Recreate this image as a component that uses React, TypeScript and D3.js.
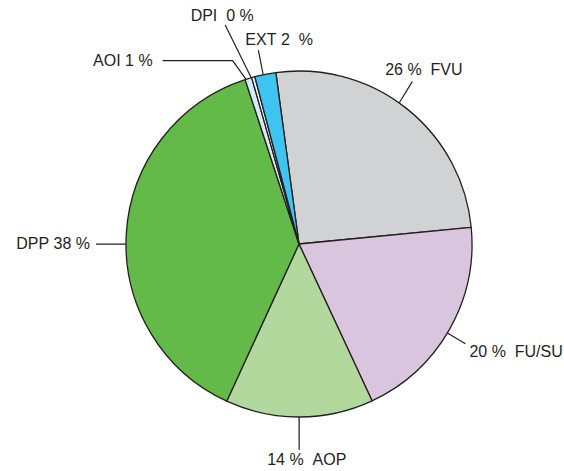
import React from 'react'
import * as d3 from 'd3'

// slice order follows the pie clockwise, starting with FVU
const CATEGORIES = ['FVU', 'FU/SU', 'AOP', 'DPP', 'AOI', 'DPI', 'EXT']
const SHARES = [25.6, 19.6, 13.8, 38.1, 0.63, 0.3, 1.97]
const COLORS = ['#d1d2d4', '#dac5df', '#b2d89d', '#63ba48', '#d4ecf9', '#ffffff', '#3fc4f1']

const W = 564
const H = 471
const CX = 299
const CY = 244
const R = 173
const START_DEG = -7.7
const INK = '#231f20'

// label placement: nudge = degrees off the slice mid angle, r2 = leader end radius
const LABEL_LAYOUT: Record<string, any> = {
  FVU:     { nudge: -3, endNudge: -3.5, r2: 198, tail: 0, anchor: 'start', dx: -27, dy: -7, text: (p: string) => `${p} %\u00a0\u00a0FVU` },
  'FU/SU': { nudge: 1.2, endNudge: 1.2, r2: 194, tail: 0, anchor: 'start', dx: 4, dy: 13, text: (p: string) => `${p} %\u00a0\u00a0FU/SU` },
  AOP:     { nudge: 0.1, endNudge: 0.1, r2: 206, tail: 0, anchor: 'start', dx: -32, dy: 15, text: (p: string) => `${p} %\u00a0\u00a0AOP` },
  DPP:     { nudge: -3.3, endNudge: -3.3, r2: 203, tail: 0, anchor: 'end', dx: -6, dy: 5, text: (p: string) => `DPP\u00a0${p} %` },
  AOI:     { nudge: -0.8, endNudge: -2.9, r2: 195, tail: -70, anchor: 'end', dx: -10, dy: 5, text: (p: string) => `AOI\u00a0${p} %` },
  DPI:     { nudge: -0.7, endNudge: -3.3, r2: 231, tail: 0, anchor: 'middle', dx: -3, dy: -4, text: (p: string) => `DPI\u00a0\u00a0${p} %` },
  EXT:     { nudge: -0.7, endNudge: -0.6, r2: 198, tail: 0, anchor: 'start', dx: -13, dy: -5, text: (p: string) => `EXT\u00a0${p}\u00a0\u00a0%` },
}

const rad = (deg: number) => (deg * Math.PI) / 180
const polar = (a: number, r: number): [number, number] => [Math.sin(a) * r, -Math.cos(a) * r]

export default function App() {
  const data = CATEGORIES.map((c, i) => ({ name: c, value: SHARES[i], color: COLORS[i] }))

  const pie = d3.pie<any>()
    .sort(null)
    .value((d) => d.value)
    .startAngle(rad(START_DEG))
    .endAngle(rad(START_DEG + 360))

  const arc = d3.arc<any>().innerRadius(0).outerRadius(R)
  const arcs = pie(data)

  return (
    <svg
      width={W}
      height={H}
      style={{ position: 'absolute', left: 0, top: 0, background: '#fff' }}
      fontFamily="'Liberation Sans', Arial, sans-serif"
    >
      <g transform={`translate(${CX},${CY})`}>
        {arcs.map((a) => (
          <path
            key={a.data.name}
            d={arc(a) ?? ''}
            fill={a.data.color}
            stroke={INK}
            strokeWidth={1.3}
            strokeLinejoin="round"
          />
        ))}

        {arcs.map((a) => {
          const L = LABEL_LAYOUT[a.data.name]
          const mid = (a.startAngle + a.endAngle) / 2
          const [x1, y1] = polar(mid + rad(L.nudge), R)
          const [x2, y2] = polar(mid + rad(L.endNudge), L.r2)
          const x3 = x2 + L.tail
          const pct = d3.format('.0f')(a.data.value)
          const pts = L.tail ? `${x1},${y1} ${x2},${y2} ${x3},${y2}` : `${x1},${y1} ${x2},${y2}`
          return (
            <g key={`lbl-${a.data.name}`}>
              <polyline points={pts} fill="none" stroke={INK} strokeWidth={1.2} />
              <text
                x={x3 + L.dx}
                y={y2 + L.dy}
                textAnchor={L.anchor}
                fontSize={16}
                fill={INK}
              >
                {L.text(pct)}
              </text>
            </g>
          )
        })}
      </g>
    </svg>
  )
}
